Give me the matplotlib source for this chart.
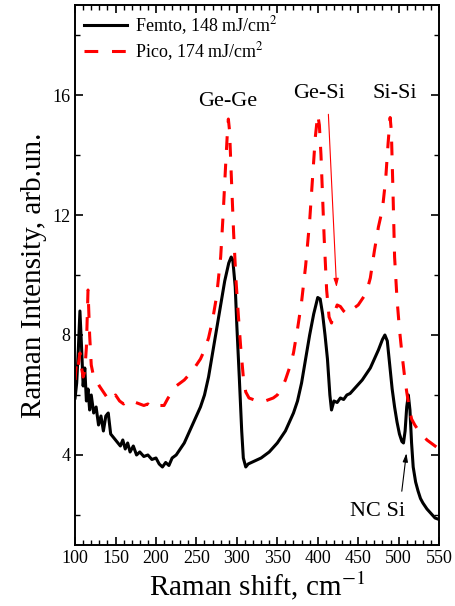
import matplotlib
matplotlib.use("Agg")
import matplotlib.pyplot as plt
from matplotlib.ticker import MultipleLocator

plt.rcParams["font.family"] = ["Liberation Serif", "DejaVu Serif"]
plt.rcParams["mathtext.fontset"] = "stix"

# Femto, 148 mJ/cm2 (black, solid)
femto_x = [100, 102, 104, 106, 108, 110, 112, 114, 116, 118, 120, 123, 126, 129, 132,
           135, 138, 141, 144, 147, 150, 153, 156, 159, 162, 165, 168, 172, 176, 180,
           185, 190, 195, 200, 204, 208, 212, 216, 220, 225, 230, 235, 240, 245, 250,
           255, 260, 265, 270, 275, 280, 285, 290, 293, 295, 298, 300, 303, 306, 308,
           311, 314, 318, 322, 326, 330, 335, 340, 345, 350, 355, 360, 365, 370, 375,
           380, 385, 390, 395, 400, 403, 406, 409, 412, 415, 417, 420, 424, 428, 432,
           436, 440, 445, 450, 455, 460, 465, 470, 475, 480, 483, 486, 489, 492, 495,
           498, 501, 504, 506, 508, 510, 512, 514, 516, 518, 521, 524, 527, 530, 535,
           540, 545, 550]
femto_y = [5.9, 6.4, 7.5, 8.8, 7.6, 6.3, 6.9, 5.8, 6.2, 5.5, 6.0, 5.4, 5.6, 5.0, 5.3,
           4.8, 5.3, 5.4, 4.7, 4.6, 4.5, 4.4, 4.3, 4.5, 4.2, 4.4, 4.1, 4.3, 4.0, 4.1,
           3.95, 4.0, 3.85, 3.9, 3.7, 3.6, 3.75, 3.65, 3.9, 4.0, 4.2, 4.4, 4.7, 5.0, 5.3,
           5.6, 6.0, 6.6, 7.4, 8.2, 9.0, 9.8, 10.4, 10.6, 10.5, 9.6, 8.3, 6.6, 4.8, 3.9,
           3.6, 3.7, 3.75, 3.8, 3.85, 3.9, 4.0, 4.1, 4.25, 4.4, 4.6, 4.8, 5.1, 5.4, 5.8,
           6.4, 7.2, 8.0, 8.7, 9.25, 9.2, 8.7, 8.0, 7.2, 6.0, 5.5, 5.8, 5.75, 5.9, 5.85,
           6.0, 6.05, 6.2, 6.35, 6.5, 6.7, 6.9, 7.2, 7.5, 7.85, 8.0, 7.8, 7.0, 6.2, 5.6,
           5.1, 4.7, 4.45, 4.4, 4.8, 5.6, 6.0, 5.5, 4.4, 3.6, 3.1, 2.8, 2.55, 2.4, 2.2,
           2.05, 1.9, 1.85]

# Pico, 174 mJ/cm2 (red, dashed)
pico_x = [100, 102, 104, 106, 108, 110, 112, 114, 116, 118, 120, 123, 126, 130, 135,
          140, 145, 150, 155, 160, 165, 170, 175, 180, 185, 190, 195, 200, 205, 210,
          215, 220, 225, 230, 235, 240, 245, 250, 255, 260, 265, 270, 275, 280, 283,
          286, 288, 289.5, 291, 293, 296, 299, 302, 305, 308, 311, 315, 320, 325, 330,
          335, 340, 345, 350, 355, 360, 365, 370, 375, 380, 385, 390, 394, 397, 400,
          402, 404, 406, 408, 411, 414, 417, 420, 424, 428, 432, 436, 440, 445, 450,
          455, 460, 465, 470, 475, 480, 484, 487, 489.5, 491, 493, 495, 498, 501, 504,
          507, 510, 513, 516, 520, 525, 530, 535, 540, 545, 550]
pico_y = [6.5, 7.2, 7.0, 7.4, 6.9, 6.6, 6.8, 7.6, 9.5, 8.0, 7.0, 6.6, 6.5, 6.3, 6.1,
          5.9, 5.8, 6.0, 5.8, 5.7, 5.8, 5.7, 5.75, 5.7, 5.65, 5.7, 5.6, 5.7, 5.65, 5.65,
          5.9, 6.1, 6.3, 6.4, 6.5, 6.65, 6.8, 7.0, 7.2, 7.5, 7.9, 8.5, 9.3, 10.6, 12.0,
          13.6, 14.6, 15.2, 14.8, 13.4, 11.4, 9.8, 8.6, 7.5, 6.6, 6.1, 5.9, 5.85, 5.8, 5.75,
          5.8, 5.85, 5.9, 6.0, 6.2, 6.5, 6.9, 7.4, 8.2, 9.1, 10.3, 11.8, 13.4, 14.6, 15.35,
          15.0, 14.0, 12.6, 11.2, 9.5, 8.6, 8.4, 8.7, 9.0, 8.95, 8.8, 8.7, 8.75, 8.9, 9.0,
          9.2, 9.4, 9.9, 10.8, 11.6, 12.2, 13.2, 14.4, 15.25, 14.8, 12.8, 10.6, 9.2, 8.2, 7.4,
          6.7, 6.1, 5.6, 5.2, 5.0, 4.8, 4.65, 4.5, 4.4, 4.3, 4.2]

fig = plt.figure(figsize=(4.55, 6.06), dpi=100)
ax = fig.add_axes([0.165, 0.1007, 0.800, 0.891])

ax.plot(femto_x, femto_y, color="black", lw=2.2, label="Femto, 148 mJ/cm$^2$")
ax.plot(pico_x, pico_y, color="red", lw=2.2, ls=(0, (4.5, 4.5)),
        label="Pico, 174 mJ/cm$^2$")

ax.set_xlim(100, 550)
ax.set_ylim(1, 19)
ax.xaxis.set_major_locator(MultipleLocator(50))
ax.xaxis.set_minor_locator(MultipleLocator(10))
ax.yaxis.set_major_locator(MultipleLocator(4))
ax.yaxis.set_minor_locator(MultipleLocator(2))
ax.tick_params(which="both", direction="in", top=True, right=True, labelsize=13)
ax.tick_params(which="major", length=6, width=1.2)
ax.tick_params(which="minor", length=3.5, width=1.0)
for s in ax.spines.values():
    s.set_linewidth(1.4)

ax.set_xlabel("Raman shift, cm$^{-1}$", fontsize=21, labelpad=2)
ax.set_ylabel("Raman Intensity, arb.un.", fontsize=21, labelpad=4)

ax.text(288.5, 15.8, "Ge-Ge", fontsize=16, ha="center", va="center")
ax.text(401.5, 16.05, "Ge-Si", fontsize=16, ha="center", va="center")
ax.text(495.5, 16.05, "Si-Si", fontsize=16, ha="center", va="center")
ax.text(474.5, 2.13, "NC Si", fontsize=16, ha="center", va="center")

ax.annotate("", xy=(423.4, 9.5), xytext=(413, 15.45),
            arrowprops=dict(arrowstyle="-|>,head_length=0.5,head_width=0.15",
                            color="red", lw=0.8))
ax.annotate("", xy=(510, 4.15), xytext=(503.5, 2.7),
            arrowprops=dict(arrowstyle="-|>,head_length=0.5,head_width=0.15",
                            color="black", lw=0.8))

ax.legend(loc="upper left", frameon=False, fontsize=13, handlelength=2.4,
          borderaxespad=0.1, labelspacing=0.2, handletextpad=0.4)

fig.savefig("out.png", dpi=100)
